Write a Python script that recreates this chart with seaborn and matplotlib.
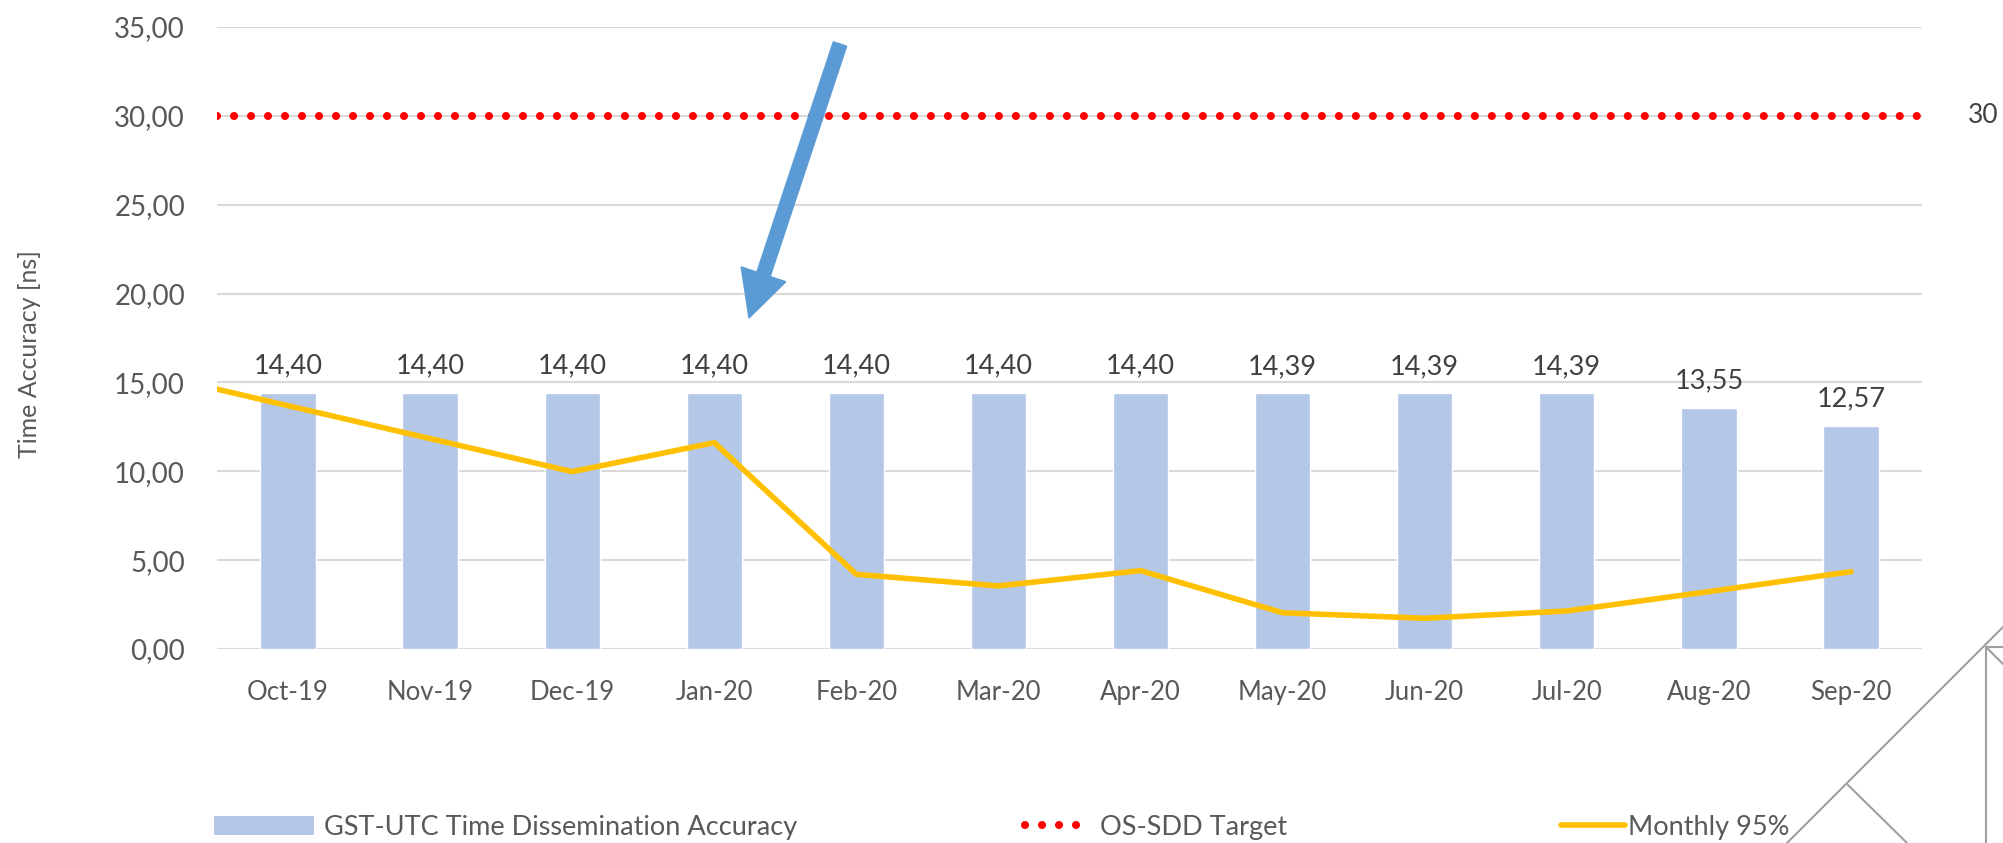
import numpy as np
import pandas as pd
import matplotlib
matplotlib.use("Agg")
import matplotlib.pyplot as plt
import matplotlib.patches as mpatches
from matplotlib.lines import Line2D
from matplotlib.transforms import IdentityTransform, blended_transform_factory
import seaborn as sns

# data
months = ["Oct-19", "Nov-19", "Dec-19", "Jan-20", "Feb-20", "Mar-20",
          "Apr-20", "May-20", "Jun-20", "Jul-20", "Aug-20", "Sep-20"]
accuracy = [14.40, 14.40, 14.40, 14.40, 14.40, 14.40, 14.40,
            14.39, 14.39, 14.39, 13.55, 12.57]
# monthly 95% line, first value is the month before the chart (Sep-19), clipped at the edge
monthly95 = [15.55, 13.69, 11.84, 9.98, 11.61, 4.20, 3.55, 4.41,
             2.04, 1.73, 2.14, 3.23, 4.35]
target = 30
yticks = [0, 5, 10, 15, 20, 25, 30, 35]

BAR_C = "#b4c7e7"
LINE_C = "#ffc000"
RED = "#ff0000"
TXT = "#595959"
DOTS = (0, (0.01, 2.1))

def comma(v):
    return "{:.2f}".format(v).replace(".", ",")

sns.set_theme(style="white")
plt.rcParams["font.family"] = ["Lato", "DejaVu Sans"]

W, H = 2003, 843
fig = plt.figure(figsize=(W / 100, H / 100), dpi=100)
ax = fig.add_axes([217 / W, 1 - 649 / H, (1922 - 217) / W, (649 - 27) / H])

df = pd.DataFrame({"month": months, "acc": accuracy})
sns.barplot(data=df, x="month", y="acc", color=BAR_C, saturation=1,
            width=0.39, ax=ax, zorder=2)

line_x = np.arange(-1, len(months))
sns.lineplot(x=line_x, y=monthly95, color=LINE_C, lw=4, ax=ax, zorder=4,
             solid_joinstyle="round", solid_capstyle="round")

ax.axhline(target, color=RED, lw=5.8, linestyle=DOTS,
           dash_capstyle="round", zorder=3)
trans = blended_transform_factory(ax.transAxes, ax.transData)
ax.annotate(str(target), xy=(1, target), xycoords=trans, xytext=(33, 0),
            textcoords="offset points", va="center", ha="left",
            fontsize=19, color="#404040", annotation_clip=False)

for i, v in enumerate(accuracy):
    ax.annotate(comma(v), xy=(i, v), xytext=(0, 14), textcoords="offset points",
                ha="center", va="baseline", fontsize=19.5, color="#404040")

ax.set_xlim(-0.5, len(months) - 0.5)
ax.set_ylim(0, 35)
ax.set_yticks(yticks)
ax.set_yticklabels([comma(t) for t in yticks])
ax.yaxis.grid(True, color="#d9d9d9", lw=1.5)
ax.set_axisbelow(True)
for s in ax.spines.values():
    s.set_visible(False)
ax.tick_params(axis="both", length=0, labelcolor=TXT)
ax.tick_params(axis="x", pad=22, labelsize=18.5)
ax.tick_params(axis="y", pad=23, labelsize=20)
ax.set_xlabel("")
ax.set_ylabel("")
fig.text(30 / W, 1 - 354 / H, "Time Accuracy [ns]", rotation=90, ha="center",
         va="center", fontsize=18, color=TXT)

# legend, one entry at a time so each keeps its own handle length
entries = [
    (mpatches.Patch(facecolor=BAR_C, edgecolor="none"),
     "GST-UTC Time Dissemination Accuracy", 214, 3.68, 0.38),
    (Line2D([], [], color=RED, lw=5.8, linestyle=DOTS, dash_capstyle="round"),
     "OS-SDD Target", 1025, 2.03, 0.74),
    (Line2D([], [], color=LINE_C, lw=4), "Monthly 95%", 1561, 2.35, 0.14),
]
for h, lab, x0, hl, tp in entries:
    fig.legend([h], [lab], loc="center left", bbox_to_anchor=(x0 / W, 16 / H),
               frameon=False, fontsize=19.5, labelcolor=TXT, borderpad=0,
               borderaxespad=0, handlelength=hl, handletextpad=tp)

# blue arrow drawn on the chart
arrow = mpatches.FancyArrow(840, H - 44, -91, -274, width=14, head_width=47,
                            head_length=46, length_includes_head=True,
                            color="#5b9bd5", transform=IdentityTransform())
fig.add_artist(arrow)

# grey corner drawing
corner = [((1787, 843), (2010, 620)), ((1986, 647), (1986, 843)),
          ((1986, 647), (2003, 647)), ((1986, 647), (2003, 664)),
          ((1848, 785), (1907, 843))]
for (x0, y0), (x1, y1) in corner:
    fig.add_artist(Line2D([x0, x1], [H - y0, H - y1], color="#a0a0a0", lw=1.5,
                          transform=IdentityTransform()))

fig.savefig("out.png", dpi=100)
